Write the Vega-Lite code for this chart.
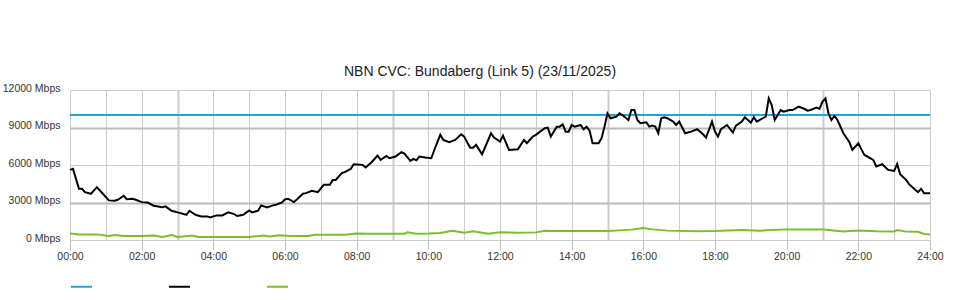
{
  "$schema": "https://vega.github.io/schema/vega-lite/v6.json",
  "width": 860,
  "height": 150,
  "autosize": {"type": "none"},
  "padding": {"left": 70, "top": 90, "right": 30, "bottom": 60},
  "background": "white",
  "title": {"text": "NBN CVC: Bundaberg (Link 5) (23/11/2025)", "font": "Liberation Sans", "fontSize": 14, "fontWeight": "normal", "color": "#222222", "anchor": "middle", "dx": -20, "offset": 4},
  "config": {"view": {"stroke": null}, "font": "Liberation Sans"},
  "data": {"values": [
    {"s":"Capacity","t":"2025-11-23T00:00","v":10000},
    {"s":"Capacity","t":"2025-11-24T00:00","v":10000},
    {"s":"Download","t":"2025-11-23T00:00","v":5610},
    {"s":"Download","t":"2025-11-23T00:05","v":5690},
    {"s":"Download","t":"2025-11-23T00:15","v":4100},
    {"s":"Download","t":"2025-11-23T00:20","v":4100},
    {"s":"Download","t":"2025-11-23T00:25","v":3830},
    {"s":"Download","t":"2025-11-23T00:35","v":3700},
    {"s":"Download","t":"2025-11-23T00:45","v":4230},
    {"s":"Download","t":"2025-11-23T00:55","v":3700},
    {"s":"Download","t":"2025-11-23T01:05","v":3170},
    {"s":"Download","t":"2025-11-23T01:15","v":3140},
    {"s":"Download","t":"2025-11-23T01:20","v":3220},
    {"s":"Download","t":"2025-11-23T01:30","v":3540},
    {"s":"Download","t":"2025-11-23T01:35","v":3270},
    {"s":"Download","t":"2025-11-23T01:45","v":3300},
    {"s":"Download","t":"2025-11-23T01:50","v":3220},
    {"s":"Download","t":"2025-11-23T02:00","v":3030},
    {"s":"Download","t":"2025-11-23T02:10","v":3000},
    {"s":"Download","t":"2025-11-23T02:20","v":2740},
    {"s":"Download","t":"2025-11-23T02:35","v":2630},
    {"s":"Download","t":"2025-11-23T02:40","v":2690},
    {"s":"Download","t":"2025-11-23T02:50","v":2340},
    {"s":"Download","t":"2025-11-23T03:00","v":2210},
    {"s":"Download","t":"2025-11-23T03:05","v":2150},
    {"s":"Download","t":"2025-11-23T03:15","v":2020},
    {"s":"Download","t":"2025-11-23T03:20","v":2340},
    {"s":"Download","t":"2025-11-23T03:30","v":2020},
    {"s":"Download","t":"2025-11-23T03:40","v":1890},
    {"s":"Download","t":"2025-11-23T03:50","v":1890},
    {"s":"Download","t":"2025-11-23T03:55","v":1810},
    {"s":"Download","t":"2025-11-23T04:05","v":1970},
    {"s":"Download","t":"2025-11-23T04:15","v":1970},
    {"s":"Download","t":"2025-11-23T04:25","v":2210},
    {"s":"Download","t":"2025-11-23T04:35","v":2070},
    {"s":"Download","t":"2025-11-23T04:40","v":1920},
    {"s":"Download","t":"2025-11-23T04:50","v":2020},
    {"s":"Download","t":"2025-11-23T05:00","v":2370},
    {"s":"Download","t":"2025-11-23T05:05","v":2210},
    {"s":"Download","t":"2025-11-23T05:15","v":2340},
    {"s":"Download","t":"2025-11-23T05:20","v":2770},
    {"s":"Download","t":"2025-11-23T05:30","v":2610},
    {"s":"Download","t":"2025-11-23T05:40","v":2770},
    {"s":"Download","t":"2025-11-23T05:45","v":2820},
    {"s":"Download","t":"2025-11-23T05:55","v":3000},
    {"s":"Download","t":"2025-11-23T06:00","v":3250},
    {"s":"Download","t":"2025-11-23T06:05","v":3300},
    {"s":"Download","t":"2025-11-23T06:15","v":3030},
    {"s":"Download","t":"2025-11-23T06:30","v":3700},
    {"s":"Download","t":"2025-11-23T06:35","v":3750},
    {"s":"Download","t":"2025-11-23T06:45","v":3940},
    {"s":"Download","t":"2025-11-23T06:55","v":3830},
    {"s":"Download","t":"2025-11-23T07:05","v":4420},
    {"s":"Download","t":"2025-11-23T07:15","v":4420},
    {"s":"Download","t":"2025-11-23T07:20","v":4810},
    {"s":"Download","t":"2025-11-23T07:25","v":4810},
    {"s":"Download","t":"2025-11-23T07:35","v":5350},
    {"s":"Download","t":"2025-11-23T07:40","v":5430},
    {"s":"Download","t":"2025-11-23T07:50","v":5690},
    {"s":"Download","t":"2025-11-23T07:55","v":6060},
    {"s":"Download","t":"2025-11-23T08:10","v":6010},
    {"s":"Download","t":"2025-11-23T08:15","v":5800},
    {"s":"Download","t":"2025-11-23T08:25","v":6220},
    {"s":"Download","t":"2025-11-23T08:35","v":6760},
    {"s":"Download","t":"2025-11-23T08:40","v":6410},
    {"s":"Download","t":"2025-11-23T08:50","v":6730},
    {"s":"Download","t":"2025-11-23T08:55","v":6540},
    {"s":"Download","t":"2025-11-23T09:05","v":6680},
    {"s":"Download","t":"2025-11-23T09:15","v":7020},
    {"s":"Download","t":"2025-11-23T09:20","v":6920},
    {"s":"Download","t":"2025-11-23T09:30","v":6330},
    {"s":"Download","t":"2025-11-23T09:35","v":6490},
    {"s":"Download","t":"2025-11-23T09:40","v":6380},
    {"s":"Download","t":"2025-11-23T09:45","v":6680},
    {"s":"Download","t":"2025-11-23T09:55","v":6600},
    {"s":"Download","t":"2025-11-23T10:05","v":6540},
    {"s":"Download","t":"2025-11-23T10:10","v":7200},
    {"s":"Download","t":"2025-11-23T10:20","v":8410},
    {"s":"Download","t":"2025-11-23T10:25","v":8010},
    {"s":"Download","t":"2025-11-23T10:35","v":7820},
    {"s":"Download","t":"2025-11-23T10:45","v":8010},
    {"s":"Download","t":"2025-11-23T10:55","v":8460},
    {"s":"Download","t":"2025-11-23T11:00","v":8270},
    {"s":"Download","t":"2025-11-23T11:10","v":7390},
    {"s":"Download","t":"2025-11-23T11:15","v":7390},
    {"s":"Download","t":"2025-11-23T11:20","v":7610},
    {"s":"Download","t":"2025-11-23T11:30","v":6860},
    {"s":"Download","t":"2025-11-23T11:45","v":8540},
    {"s":"Download","t":"2025-11-23T11:50","v":8200},
    {"s":"Download","t":"2025-11-23T12:00","v":7870},
    {"s":"Download","t":"2025-11-23T12:05","v":8350},
    {"s":"Download","t":"2025-11-23T12:15","v":7210},
    {"s":"Download","t":"2025-11-23T12:30","v":7260},
    {"s":"Download","t":"2025-11-23T12:40","v":8010},
    {"s":"Download","t":"2025-11-23T12:45","v":7740},
    {"s":"Download","t":"2025-11-23T12:55","v":8270},
    {"s":"Download","t":"2025-11-23T13:00","v":8410},
    {"s":"Download","t":"2025-11-23T13:15","v":8940},
    {"s":"Download","t":"2025-11-23T13:20","v":8990},
    {"s":"Download","t":"2025-11-23T13:25","v":8270},
    {"s":"Download","t":"2025-11-23T13:35","v":9070},
    {"s":"Download","t":"2025-11-23T13:40","v":9070},
    {"s":"Download","t":"2025-11-23T13:45","v":9260},
    {"s":"Download","t":"2025-11-23T13:50","v":8670},
    {"s":"Download","t":"2025-11-23T13:55","v":8670},
    {"s":"Download","t":"2025-11-23T14:00","v":9200},
    {"s":"Download","t":"2025-11-23T14:05","v":9070},
    {"s":"Download","t":"2025-11-23T14:15","v":9200},
    {"s":"Download","t":"2025-11-23T14:20","v":8860},
    {"s":"Download","t":"2025-11-23T14:25","v":9070},
    {"s":"Download","t":"2025-11-23T14:30","v":8750},
    {"s":"Download","t":"2025-11-23T14:35","v":7740},
    {"s":"Download","t":"2025-11-23T14:45","v":7740},
    {"s":"Download","t":"2025-11-23T14:50","v":8140},
    {"s":"Download","t":"2025-11-23T14:55","v":9070},
    {"s":"Download","t":"2025-11-23T15:00","v":10130},
    {"s":"Download","t":"2025-11-23T15:05","v":9740},
    {"s":"Download","t":"2025-11-23T15:15","v":9870},
    {"s":"Download","t":"2025-11-23T15:20","v":10130},
    {"s":"Download","t":"2025-11-23T15:25","v":10000},
    {"s":"Download","t":"2025-11-23T15:35","v":9600},
    {"s":"Download","t":"2025-11-23T15:40","v":10400},
    {"s":"Download","t":"2025-11-23T15:45","v":10400},
    {"s":"Download","t":"2025-11-23T15:50","v":9600},
    {"s":"Download","t":"2025-11-23T15:55","v":9340},
    {"s":"Download","t":"2025-11-23T16:05","v":9420},
    {"s":"Download","t":"2025-11-23T16:10","v":9070},
    {"s":"Download","t":"2025-11-23T16:15","v":9150},
    {"s":"Download","t":"2025-11-23T16:20","v":9070},
    {"s":"Download","t":"2025-11-23T16:25","v":8540},
    {"s":"Download","t":"2025-11-23T16:30","v":9740},
    {"s":"Download","t":"2025-11-23T16:35","v":9820},
    {"s":"Download","t":"2025-11-23T16:40","v":9740},
    {"s":"Download","t":"2025-11-23T16:50","v":9470},
    {"s":"Download","t":"2025-11-23T16:55","v":9200},
    {"s":"Download","t":"2025-11-23T17:00","v":9470},
    {"s":"Download","t":"2025-11-23T17:10","v":8540},
    {"s":"Download","t":"2025-11-23T17:20","v":8670},
    {"s":"Download","t":"2025-11-23T17:30","v":8860},
    {"s":"Download","t":"2025-11-23T17:40","v":8460},
    {"s":"Download","t":"2025-11-23T17:45","v":8190},
    {"s":"Download","t":"2025-11-23T17:55","v":9470},
    {"s":"Download","t":"2025-11-23T18:00","v":8670},
    {"s":"Download","t":"2025-11-23T18:05","v":8270},
    {"s":"Download","t":"2025-11-23T18:10","v":8860},
    {"s":"Download","t":"2025-11-23T18:20","v":9200},
    {"s":"Download","t":"2025-11-23T18:30","v":8590},
    {"s":"Download","t":"2025-11-23T18:35","v":9150},
    {"s":"Download","t":"2025-11-23T18:45","v":9470},
    {"s":"Download","t":"2025-11-23T18:50","v":9820},
    {"s":"Download","t":"2025-11-23T19:00","v":9390},
    {"s":"Download","t":"2025-11-23T19:05","v":9820},
    {"s":"Download","t":"2025-11-23T19:10","v":9470},
    {"s":"Download","t":"2025-11-23T19:20","v":9740},
    {"s":"Download","t":"2025-11-23T19:25","v":9870},
    {"s":"Download","t":"2025-11-23T19:30","v":11330},
    {"s":"Download","t":"2025-11-23T19:35","v":10800},
    {"s":"Download","t":"2025-11-23T19:40","v":9600},
    {"s":"Download","t":"2025-11-23T19:50","v":10400},
    {"s":"Download","t":"2025-11-23T19:55","v":10270},
    {"s":"Download","t":"2025-11-23T20:05","v":10400},
    {"s":"Download","t":"2025-11-23T20:10","v":10400},
    {"s":"Download","t":"2025-11-23T20:20","v":10670},
    {"s":"Download","t":"2025-11-23T20:30","v":10480},
    {"s":"Download","t":"2025-11-23T20:35","v":10350},
    {"s":"Download","t":"2025-11-23T20:40","v":10400},
    {"s":"Download","t":"2025-11-23T20:50","v":10590},
    {"s":"Download","t":"2025-11-23T20:55","v":10480},
    {"s":"Download","t":"2025-11-23T21:00","v":11070},
    {"s":"Download","t":"2025-11-23T21:05","v":11330},
    {"s":"Download","t":"2025-11-23T21:10","v":10130},
    {"s":"Download","t":"2025-11-23T21:15","v":9600},
    {"s":"Download","t":"2025-11-23T21:20","v":9920},
    {"s":"Download","t":"2025-11-23T21:25","v":9600},
    {"s":"Download","t":"2025-11-23T21:35","v":8540},
    {"s":"Download","t":"2025-11-23T21:45","v":7820},
    {"s":"Download","t":"2025-11-23T21:50","v":7210},
    {"s":"Download","t":"2025-11-23T22:00","v":7740},
    {"s":"Download","t":"2025-11-23T22:10","v":6810},
    {"s":"Download","t":"2025-11-23T22:15","v":6680},
    {"s":"Download","t":"2025-11-23T22:25","v":6410},
    {"s":"Download","t":"2025-11-23T22:30","v":5880},
    {"s":"Download","t":"2025-11-23T22:40","v":6060},
    {"s":"Download","t":"2025-11-23T22:50","v":5610},
    {"s":"Download","t":"2025-11-23T23:00","v":5530},
    {"s":"Download","t":"2025-11-23T23:05","v":6090},
    {"s":"Download","t":"2025-11-23T23:10","v":5270},
    {"s":"Download","t":"2025-11-23T23:20","v":4810},
    {"s":"Download","t":"2025-11-23T23:25","v":4470},
    {"s":"Download","t":"2025-11-23T23:35","v":4020},
    {"s":"Download","t":"2025-11-23T23:40","v":3830},
    {"s":"Download","t":"2025-11-23T23:45","v":4100},
    {"s":"Download","t":"2025-11-23T23:50","v":3750},
    {"s":"Download","t":"2025-11-24T00:00","v":3750},
    {"s":"Upload","t":"2025-11-23T00:00","v":520},
    {"s":"Upload","t":"2025-11-23T00:15","v":450},
    {"s":"Upload","t":"2025-11-23T00:45","v":450},
    {"s":"Upload","t":"2025-11-23T01:05","v":330},
    {"s":"Upload","t":"2025-11-23T01:15","v":400},
    {"s":"Upload","t":"2025-11-23T01:30","v":330},
    {"s":"Upload","t":"2025-11-23T02:00","v":330},
    {"s":"Upload","t":"2025-11-23T02:20","v":350},
    {"s":"Upload","t":"2025-11-23T02:35","v":240},
    {"s":"Upload","t":"2025-11-23T02:50","v":400},
    {"s":"Upload","t":"2025-11-23T03:00","v":240},
    {"s":"Upload","t":"2025-11-23T03:25","v":350},
    {"s":"Upload","t":"2025-11-23T03:35","v":240},
    {"s":"Upload","t":"2025-11-23T04:00","v":240},
    {"s":"Upload","t":"2025-11-23T05:00","v":240},
    {"s":"Upload","t":"2025-11-23T05:25","v":350},
    {"s":"Upload","t":"2025-11-23T05:35","v":290},
    {"s":"Upload","t":"2025-11-23T05:50","v":370},
    {"s":"Upload","t":"2025-11-23T06:10","v":320},
    {"s":"Upload","t":"2025-11-23T06:40","v":320},
    {"s":"Upload","t":"2025-11-23T06:50","v":430},
    {"s":"Upload","t":"2025-11-23T07:40","v":430},
    {"s":"Upload","t":"2025-11-23T08:00","v":520},
    {"s":"Upload","t":"2025-11-23T08:20","v":500},
    {"s":"Upload","t":"2025-11-23T09:20","v":500},
    {"s":"Upload","t":"2025-11-23T09:25","v":610},
    {"s":"Upload","t":"2025-11-23T09:40","v":510},
    {"s":"Upload","t":"2025-11-23T10:00","v":520},
    {"s":"Upload","t":"2025-11-23T10:20","v":560},
    {"s":"Upload","t":"2025-11-23T10:40","v":740},
    {"s":"Upload","t":"2025-11-23T11:00","v":580},
    {"s":"Upload","t":"2025-11-23T11:15","v":690},
    {"s":"Upload","t":"2025-11-23T11:40","v":500},
    {"s":"Upload","t":"2025-11-23T12:00","v":620},
    {"s":"Upload","t":"2025-11-23T12:30","v":590},
    {"s":"Upload","t":"2025-11-23T13:00","v":610},
    {"s":"Upload","t":"2025-11-23T13:15","v":740},
    {"s":"Upload","t":"2025-11-23T13:30","v":720},
    {"s":"Upload","t":"2025-11-23T15:00","v":720},
    {"s":"Upload","t":"2025-11-23T15:20","v":770},
    {"s":"Upload","t":"2025-11-23T15:40","v":830},
    {"s":"Upload","t":"2025-11-23T16:00","v":950},
    {"s":"Upload","t":"2025-11-23T16:15","v":850},
    {"s":"Upload","t":"2025-11-23T16:40","v":750},
    {"s":"Upload","t":"2025-11-23T17:30","v":700},
    {"s":"Upload","t":"2025-11-23T18:00","v":720},
    {"s":"Upload","t":"2025-11-23T18:45","v":800},
    {"s":"Upload","t":"2025-11-23T19:15","v":750},
    {"s":"Upload","t":"2025-11-23T20:00","v":850},
    {"s":"Upload","t":"2025-11-23T21:00","v":850},
    {"s":"Upload","t":"2025-11-23T21:10","v":800},
    {"s":"Upload","t":"2025-11-23T21:35","v":690},
    {"s":"Upload","t":"2025-11-23T22:00","v":750},
    {"s":"Upload","t":"2025-11-23T22:30","v":700},
    {"s":"Upload","t":"2025-11-23T23:00","v":690},
    {"s":"Upload","t":"2025-11-23T23:05","v":800},
    {"s":"Upload","t":"2025-11-23T23:20","v":670},
    {"s":"Upload","t":"2025-11-23T23:40","v":660},
    {"s":"Upload","t":"2025-11-23T23:50","v":480},
    {"s":"Upload","t":"2025-11-24T00:00","v":430}
  ]},
  "mark": {"type": "line", "strokeWidth": 2},
  "encoding": {
    "x": {
      "field": "t", "type": "temporal",
      "scale": {"domain": [{"year": 2025, "month": 11, "date": 23, "hours": 0}, {"year": 2025, "month": 11, "date": 24, "hours": 0}]},
      "axis": {
        "title": null,
        "format": "%H:%M",
        "labelExpr": "hours(datum.value) % 2 == 0 ? (date(datum.value) == 24 ? '24:00' : datum.label) : ''",
        "grid": true,
        "gridColor": "#cccccc",
        "gridWidth": {"condition": {"test": "hours(datum.value) % 6 == 3", "value": 2}, "value": 1},
        "domain": false,
        "tickSize": 10,
        "tickColor": "#c0c0c0",
        "tickOpacity": {"condition": {"test": "hours(datum.value) % 2 == 0", "value": 1}, "value": 0},
        "labelFont": "Liberation Sans",
        "labelFontSize": 10.5,
        "labelColor": "#333333",
        "labelPadding": 1,
        "labelFlush": false,
        "labelOverlap": false
      }
    },
    "y": {
      "field": "v", "type": "quantitative",
      "scale": {"domain": [0, 12000], "nice": false},
      "axis": {
        "title": null,
        "values": [0, 3000, 6000, 9000, 12000],
        "labelExpr": "datum.value + ' Mbps'",
        "grid": true,
        "gridColor": {"condition": {"test": "datum.value == 3000 || datum.value == 9000", "value": "#bbbbbb"}, "value": "#cccccc"},
        "gridWidth": {"condition": {"test": "datum.value == 3000 || datum.value == 9000", "value": 2}, "value": 1},
        "domain": false,
        "ticks": false,
        "labelPadding": 10,
        "labelOffset": -2,
        "labelFont": "Liberation Sans",
        "labelFontSize": 10.5,
        "labelColor": "#333333"
      }
    },
    "color": {
      "field": "s", "type": "nominal",
      "scale": {"domain": ["Capacity", "Download", "Upload"], "range": ["#1fa3dd", "#000000", "#7cbd2b"]},
      "legend": {
        "orient": "none", "legendX": 0, "legendY": 185, "direction": "horizontal",
        "title": null, "symbolType": "stroke", "symbolSize": 441, "symbolStrokeWidth": 2,
        "labelExpr": "''", "labelOffset": 0, "columnPadding": 69, "padding": 0
      }
    }
  }
}
